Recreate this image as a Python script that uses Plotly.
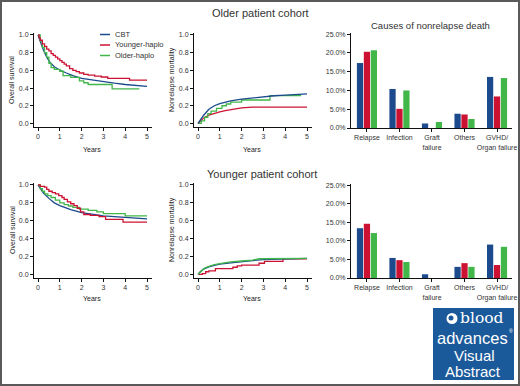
import plotly.graph_objects as go

W, H = 520, 386
def px(x): return x / W
def py(y): return 1 - y / H

BLUE = "#1c4a8c"
RED = "#cc1233"
GREEN = "#41b649"
FONT = "Liberation Sans"

series_names = ["CBT", "Younger-haplo", "Older-haplo"]
colors = [BLUE, RED, GREEN]

# ---- Older cohort: overall survival ----
os_old_cbt_t = [0, 0.1, 0.25, 0.4, 0.55, 0.75, 0.95, 1.3, 1.6, 2.0, 2.5, 3.0, 3.5, 4.0, 4.5, 5.0]
os_old_cbt_s = [1, 0.93, 0.83, 0.75, 0.69, 0.64, 0.61, 0.57, 0.54, 0.51, 0.49, 0.47, 0.455, 0.44, 0.43, 0.42]
os_old_yh_t = [0, 0.05, 0.1, 0.2, 0.3, 0.4, 0.5, 0.6, 0.7, 0.8, 0.9, 1.0, 1.1, 1.2, 1.3, 1.45, 1.6, 1.75, 1.9, 2.1, 2.3, 2.6, 2.9, 3.2, 4.2, 5.0]
os_old_yh_s = [1, 0.97, 0.94, 0.90, 0.87, 0.84, 0.82, 0.79, 0.77, 0.75, 0.73, 0.71, 0.69, 0.67, 0.65, 0.62, 0.60, 0.585, 0.57, 0.555, 0.545, 0.535, 0.525, 0.51, 0.49, 0.49]
os_old_oh_t = [0, 0.1, 0.2, 0.3, 0.4, 0.5, 0.6, 0.75, 1.0, 1.15, 1.5, 1.9, 2.1, 2.3, 3.4, 4.65]
os_old_oh_s = [1, 0.93, 0.86, 0.80, 0.75, 0.68, 0.63, 0.61, 0.59, 0.54, 0.52, 0.48, 0.46, 0.44, 0.39, 0.39]

# ---- Older cohort: nonrelapse mortality ----
nrm_old_cbt_t = [0, 0.1, 0.25, 0.5, 0.75, 1.0, 1.5, 2.0, 2.5, 3.0, 3.5, 4.0, 4.5, 5.0]
nrm_old_cbt_v = [0, 0.035, 0.09, 0.16, 0.20, 0.225, 0.255, 0.275, 0.29, 0.303, 0.313, 0.32, 0.328, 0.335]
nrm_old_yh_t = [0, 0.1, 0.25, 0.5, 0.75, 1.0, 1.25, 1.5, 1.75, 2.0, 2.5, 3.0, 5.0]
nrm_old_yh_v = [0, 0.025, 0.06, 0.095, 0.115, 0.13, 0.145, 0.155, 0.165, 0.175, 0.185, 0.185, 0.185]
nrm_old_oh_t = [0, 0.15, 0.3, 0.45, 0.6, 0.85, 1.1, 1.3, 1.5, 2.0, 3.3, 4.7]
nrm_old_oh_v = [0, 0.03, 0.07, 0.11, 0.14, 0.17, 0.20, 0.22, 0.24, 0.265, 0.315, 0.33]

# ---- Younger cohort: overall survival ----
os_yng_cbt_t = [0, 0.1, 0.25, 0.5, 0.75, 1.0, 1.25, 1.5, 2.0, 2.5, 3.0, 3.5, 4.0, 4.5, 5.0]
os_yng_cbt_s = [1, 0.96, 0.91, 0.85, 0.80, 0.77, 0.745, 0.725, 0.69, 0.67, 0.655, 0.645, 0.635, 0.625, 0.62]
os_yng_yh_t = [0, 0.1, 0.3, 0.4, 0.5, 0.65, 0.8, 0.95, 1.1, 1.2, 1.35, 1.5, 1.65, 1.8, 1.95, 2.1, 2.4, 2.8, 3.1, 3.9, 5.0]
os_yng_yh_s = [1, 0.985, 0.975, 0.95, 0.93, 0.915, 0.90, 0.88, 0.86, 0.84, 0.81, 0.79, 0.77, 0.74, 0.70, 0.67, 0.66, 0.645, 0.615, 0.585, 0.585]
os_yng_oh_t = [0, 0.1, 0.2, 0.3, 0.45, 0.6, 0.8, 1.0, 1.2, 1.4, 1.6, 1.9, 2.3, 2.7, 3.0, 4.0, 5.0]
os_yng_oh_s = [1, 0.96, 0.93, 0.90, 0.88, 0.86, 0.83, 0.80, 0.78, 0.765, 0.75, 0.73, 0.715, 0.70, 0.68, 0.655, 0.655]

# ---- Younger cohort: nonrelapse mortality ----
nrm_yng_cbt_t = [0, 0.1, 0.25, 0.5, 0.75, 1.0, 1.5, 2.0, 2.5, 3.0, 3.5, 4.0, 5.0]
nrm_yng_cbt_v = [0, 0.03, 0.06, 0.085, 0.10, 0.115, 0.13, 0.145, 0.155, 0.165, 0.17, 0.175, 0.18]
nrm_yng_yh_t = [0, 0.2, 0.35, 0.5, 0.8, 1.6, 1.8, 2.0, 2.8, 3.05, 3.9, 5.0]
nrm_yng_yh_v = [0, 0.01, 0.03, 0.04, 0.065, 0.08, 0.095, 0.105, 0.125, 0.145, 0.175, 0.175]
nrm_yng_oh_t = [0, 0.15, 0.3, 0.5, 0.75, 1.0, 1.5, 2.0, 2.5, 2.8, 3.5, 4.0, 5.0]
nrm_yng_oh_v = [0, 0.04, 0.07, 0.09, 0.11, 0.12, 0.14, 0.15, 0.16, 0.175, 0.175, 0.178, 0.18]

# ---- Causes of nonrelapse death (%) ----
causes = ["Relapse", "Infection", "Graft<br>failure", "Others", "GVHD/<br>Organ failure"]
old_cbt = [17.3, 10.4, 1.2, 3.8, 13.6]
old_yh = [20.3, 5.1, 0.0, 3.6, 8.4]
old_oh = [20.7, 10.0, 1.6, 2.4, 13.3]
yng_cbt = [13.4, 5.4, 1.0, 3.0, 9.0]
yng_yh = [14.6, 4.8, 0.0, 4.0, 3.5]
yng_oh = [12.1, 4.3, 0.0, 3.0, 8.4]

year_ticks = [0, 1, 2, 3, 4, 5]
prob_ticks = [0.0, 0.2, 0.4, 0.6, 0.8, 1.0]
prob_labels = ["0.0", "0.2", "0.4", "0.6", "0.8", "1.0"]
pct_ticks = [0, 5, 10, 15, 20, 25]
pct_labels = ["0.0%", "5.0%", "10.0%", "15.0%", "20.0%", "25.0%"]

fig = go.Figure()

def add_km(t, v, color, ax, smooth):
    fig.add_trace(go.Scatter(
        x=t, y=v, mode="lines",
        line=dict(color=color, width=1.3, shape="linear" if smooth else "hv"),
        xaxis="x" + ax, yaxis="y" + ax, showlegend=False, hoverinfo="skip"))

add_km(os_old_cbt_t, os_old_cbt_s, BLUE, "", True)
add_km(os_old_oh_t, os_old_oh_s, GREEN, "", False)
add_km(os_old_yh_t, os_old_yh_s, RED, "", False)
add_km(nrm_old_yh_t, nrm_old_yh_v, RED, "2", True)
add_km(nrm_old_oh_t, nrm_old_oh_v, GREEN, "2", False)
add_km(nrm_old_cbt_t, nrm_old_cbt_v, BLUE, "2", True)
add_km(os_yng_cbt_t, os_yng_cbt_s, BLUE, "4", True)
add_km(os_yng_oh_t, os_yng_oh_s, GREEN, "4", False)
add_km(os_yng_yh_t, os_yng_yh_s, RED, "4", False)
add_km(nrm_yng_yh_t, nrm_yng_yh_v, RED, "5", False)
add_km(nrm_yng_cbt_t, nrm_yng_cbt_v, BLUE, "5", True)
add_km(nrm_yng_oh_t, nrm_yng_oh_v, GREEN, "5", True)

for vals, c in zip([old_cbt, old_yh, old_oh], colors):
    fig.add_trace(go.Bar(x=causes, y=vals, marker=dict(color=c, line=dict(width=0)),
                         xaxis="x3", yaxis="y3", showlegend=False, hoverinfo="skip"))
for vals, c in zip([yng_cbt, yng_yh, yng_oh], colors):
    fig.add_trace(go.Bar(x=causes, y=vals, marker=dict(color=c, line=dict(width=0)),
                         xaxis="x6", yaxis="y6", showlegend=False, hoverinfo="skip"))

tickfont = dict(family=FONT, size=7, color="#333333")
common = dict(showline=True, linecolor="#111", linewidth=1, ticks="outside",
              ticklen=3, tickwidth=1, tickcolor="#111", showgrid=False,
              zeroline=False, tickfont=tickfont, fixedrange=True, automargin=False)

def km_axes(xname, yname, x0, x1, ytop, ybot, anchor_x, anchor_y):
    xr = [-4 / 21.8, (x1 - x0 - 4) / 21.8]
    fig.layout[xname] = dict(domain=[px(x0), px(x1)], range=xr, tickvals=year_ticks,
                             anchor=anchor_y, tickangle=0, **common)
    fig.layout[yname] = dict(domain=[py(ybot), py(ytop)], range=[-0.04, 1.022],
                             tickvals=prob_ticks, ticktext=prob_labels, anchor=anchor_x, **common)

km_axes("xaxis", "yaxis", 34, 152, 33, 127, "x", "y")
km_axes("xaxis2", "yaxis2", 194, 312, 33, 127, "x2", "y2")
km_axes("xaxis4", "yaxis4", 34, 152, 183, 278, "x4", "y4")
km_axes("xaxis5", "yaxis5", 194, 312, 183, 278, "x5", "y5")

def bar_axes(xname, yname, ytop, ybot, anchor_x, anchor_y):
    fig.layout[xname] = dict(domain=[px(351), px(512)], range=[-0.49, 4.46],
                             anchor=anchor_y, tickangle=0, **common)
    fig.layout[yname] = dict(domain=[py(ybot), py(ytop)], range=[0, 25.3],
                             tickvals=pct_ticks, ticktext=pct_labels,
                             anchor=anchor_x, **common)

bar_axes("xaxis3", "yaxis3", 33, 128, "x3", "y3")
bar_axes("xaxis6", "yaxis6", 184, 278, "x6", "y6")

annotations = []
shapes = []

def text(x, y, s, size, color="#333", family=FONT, angle=0, xanchor="center"):
    annotations.append(dict(x=px(x), y=py(y), xref="paper", yref="paper", text=s,
                            showarrow=False, textangle=angle, xanchor=xanchor, yanchor="middle",
                            font=dict(family=family, size=size, color=color)))

text(260, 13, "Older patient cohort", 11)
text(262, 174, "Younger patient cohort", 11)
text(430, 25, "Causes of nonrelapse death", 9.5)
for yc in (80, 230):
    text(12, yc, "Overall survival", 7, "#222", FONT, -90)
    text(172, yc, "Nonrelapse mortality", 7, "#222", FONT, -90)
for xc in (92, 252):
    text(xc, 149, "Years", 7, "#222", FONT)
    text(xc, 298, "Years", 7, "#222", FONT)

# legend (top-left panel)
for i, (name, c) in enumerate(zip(series_names, colors)):
    yy = 34.5 + i * 10.5
    shapes.append(dict(type="line", xref="paper", yref="paper", x0=px(100), x1=px(110),
                       y0=py(yy), y1=py(yy), line=dict(color=c, width=1.5)))
    text(113, yy, name, 7.5, "#333", FONT, 0, "left")

# journal logo
LOGO = "#1b5a9a"
shapes.append(dict(type="rect", xref="paper", yref="paper", x0=px(433), x1=px(514),
                   y0=py(380), y1=py(308), fillcolor=LOGO, line=dict(width=0)))
shapes.append(dict(type="circle", xref="paper", yref="paper", x0=px(446.5), x1=px(457.5),
                   y0=py(324), y1=py(313), fillcolor="white", line=dict(width=0)))
shapes.append(dict(type="circle", xref="paper", yref="paper", x0=px(448.5), x1=px(453.5),
                   y0=py(320.5), y1=py(315.5), fillcolor=LOGO, line=dict(width=0)))
text(482, 317.5, "blood", 15.5, "white", "DejaVu Serif")
text(472, 337.5, "advances", 16.5, "white", FONT)
text(510.5, 331, "®", 5, "white", FONT)
text(474, 355, "Visual", 15, "white", FONT)
text(473, 371, "Abstract", 15, "white", FONT)

# outer frame
shapes.append(dict(type="rect", xref="paper", yref="paper", x0=0, x1=1, y0=0, y1=1,
                   line=dict(color="#5a5a5a", width=4), fillcolor="rgba(0,0,0,0)"))

fig.update_layout(
    width=W, height=H, margin=dict(l=0, r=0, t=0, b=0, pad=0),
    paper_bgcolor="white", plot_bgcolor="white",
    barmode="group", bargap=0.36, bargroupgap=0.1,
    showlegend=False, annotations=annotations, shapes=shapes,
    font=dict(family=FONT, color="#333333"),
)

fig.write_html("out.html", config={"displayModeBar": False, "staticPlot": True},
               post_script="document.body.style.margin='0';document.body.style.padding='0';document.body.style.overflow='hidden';")
